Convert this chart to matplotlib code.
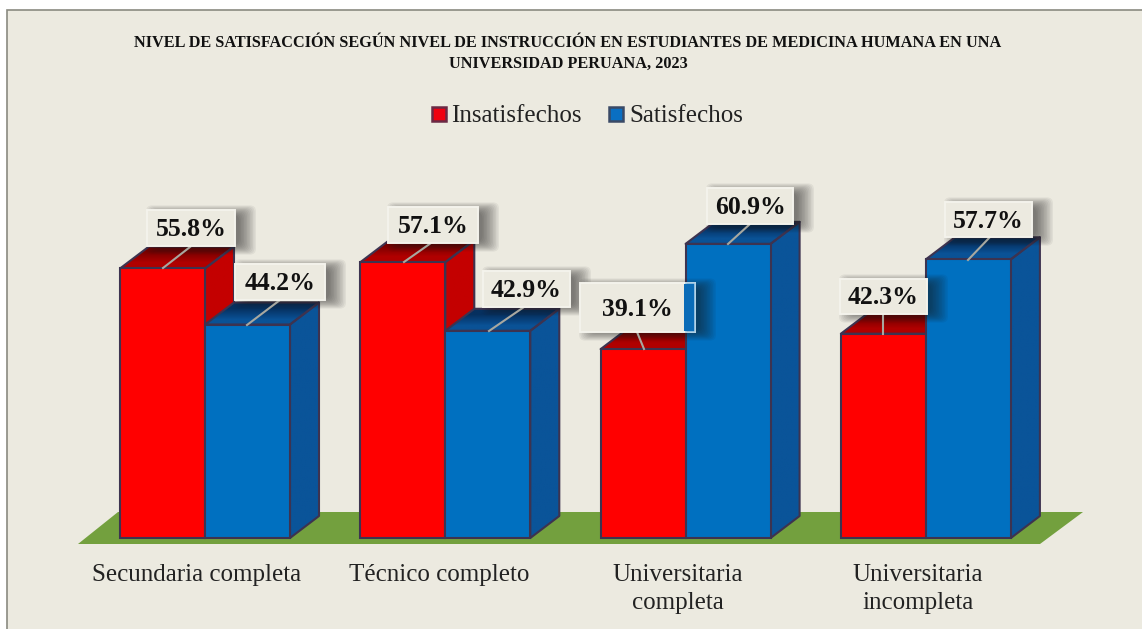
import numpy as np
import matplotlib
matplotlib.use("Agg")
import matplotlib.pyplot as plt
from matplotlib.patches import Polygon, Rectangle, FancyBboxPatch
from matplotlib.transforms import Affine2D

categories = ["Secundaria completa", "Técnico completo", "Universitaria\ncompleta", "Universitaria\nincompleta"]
insatisfechos = [55.8, 57.1, 39.1, 42.3]
satisfechos = [44.2, 42.9, 60.9, 57.7]

W, H = 1142, 629
BG = "#ECEAE0"
EDGE = "#3D3350"
SERIF = "Liberation Serif"

# scale: baseline at y=538, 4.83 px per percent, groups 240.3 px apart
px_x = 240.3
px_y = 4.83
bar_w = 85 / px_x
dx = 29 / px_x
dy = 22 / px_y

fig = plt.figure(figsize=(W / 100, H / 100), dpi=100, facecolor="white")
ax = fig.add_axes([0, 0, 1, 1])
ax.set_xlim(-205 / px_x, (W - 205) / px_x)
ax.set_ylim(-(H - 538) / px_y, 538 / px_y)
ax.axis("off")

# image pixels, y going down
pix = Affine2D().scale(1, -1).translate(0, H)

ax.add_patch(Rectangle((7, 10), W, H, transform=pix, fc=BG, ec="#8A8A80", lw=1.2, zorder=0))
ax.add_patch(Polygon([(78, 544), (1040, 544), (1083, 512), (118, 512)], transform=pix,
                     fc="#73A03E", ec="none", zorder=1))


def gradient_face(points, c0, c1, zorder):
    # vertical gradient clipped to a polygon
    colors = np.array([matplotlib.colors.to_rgb(c0), matplotlib.colors.to_rgb(c1)])
    img = colors.reshape(2, 1, 3)
    xs = [p[0] for p in points]
    ys = [p[1] for p in points]
    poly = Polygon(points, fc="none", ec=EDGE, lw=1.5, joinstyle="round", zorder=zorder + 0.1)
    ax.add_patch(poly)
    im = ax.imshow(img, extent=(min(xs), max(xs), min(ys), max(ys)), aspect="auto",
                   interpolation="bilinear", zorder=zorder)
    im.set_clip_path(poly)


def bar3d(x0, val, front, top_back, top_front, side, zorder):
    x1 = x0 + bar_w
    top = [(x0, val), (x1, val), (x1 + dx, val + dy), (x0 + dx, val + dy)]
    gradient_face(top, top_back, top_front, zorder)
    right = [(x1, 0), (x1 + dx, dy), (x1 + dx, val + dy), (x1, val)]
    gradient_face(right, side, side, zorder)
    ax.bar(x0, val, width=bar_w, align="edge", color=front, edgecolor=EDGE, lw=1.5, zorder=zorder + 0.2)


for i in range(len(categories)):
    z = 2 + i * 2
    bar3d(i - bar_w, insatisfechos[i], "#FF0000", "#760000", "#B00000", "#C40000", z)
    bar3d(i, satisfechos[i], "#0070C0", "#06305F", "#0A5296", "#0A5499", z + 1)

# label boxes in image pixels: x0, y0, x1, y1
boxes_red = [(147, 210, 235, 246), (388, 207, 478, 243), (580, 283, 695, 332), (840, 279, 927, 314)]
boxes_blue = [(235, 264, 325, 300), (483, 271, 570, 307), (707, 188, 793, 224), (945, 202, 1032, 237)]
leaders_red = [(163, 268, 190, 247), (404, 262, 431, 243), (644, 349, 637, 332), (883, 334, 883, 314)]
leaders_blue = [(247, 325, 280, 300), (489, 331, 524, 307), (728, 244, 750, 224), (968, 260, 990, 237)]

labels = [f"{v:.1f}%" for v in insatisfechos] + [f"{v:.1f}%" for v in satisfechos]
boxes = boxes_red + boxes_blue
leaders = leaders_red + leaders_blue

for (x0, y0, x1, y1) in boxes:
    # soft shadow, mostly to the right of the box
    for k in range(12):
        grow = 11 - k * 1.5
        ax.add_patch(FancyBboxPatch((x0 + 10 - grow, y0 + 2 - grow * 0.6), x1 - x0 + 2 * grow, y1 - y0 + 2 * grow * 0.6,
                                    boxstyle="round,pad=0,rounding_size=6", transform=pix,
                                    fc="#1A1A1A", ec="none", alpha=0.06, zorder=20))

for (lx0, ly0, lx1, ly1) in leaders:
    ax.plot([lx0, lx1], [ly0, ly1], transform=pix, color="#A8A8A0", lw=1.5, zorder=21)

for (x0, y0, x1, y1), label in zip(boxes, labels):
    ax.add_patch(Rectangle((x0, y0), x1 - x0, y1 - y0, transform=pix, fc=BG, ec="#F4F3EC", lw=1.4, zorder=22))
    ax.text((x0 + x1) / 2, (y0 + y1) / 2 + 1.5, label, transform=pix, ha="center", va="center",
            fontsize=18.5, fontweight="bold", family=SERIF, color="#111111", zorder=23)

# the 39.1% box runs over the blue bar without hiding it
ax.add_patch(Rectangle((686, 283), 9, 49, transform=pix, fc="#0A6CB8", ec="#A6CCE6", lw=1.2, zorder=22.5))
ax.add_patch(Rectangle((684, 284), 3, 47, transform=pix, fc="#0A6CB8", ec="none", zorder=22.6))

label_x = [197, 439, 678, 918]
for i, cat in enumerate(categories):
    first_y = 575
    for j, line in enumerate(cat.split("\n")):
        ax.text(label_x[i], first_y + j * 28, line, transform=pix, ha="center", va="center",
                fontsize=18, family=SERIF, color="#222222", zorder=5)

ax.text(568, 43, "NIVEL DE SATISFACCIÓN SEGÚN NIVEL DE INSTRUCCIÓN EN ESTUDIANTES DE MEDICINA HUMANA EN UNA",
        transform=pix, ha="center", va="center", fontsize=11.7, fontweight="bold", family=SERIF, color="#111111")
ax.text(568, 64, "UNIVERSIDAD PERUANA, 2023", transform=pix, ha="center", va="center",
        fontsize=11.7, fontweight="bold", family=SERIF, color="#111111")

# legend
ax.add_patch(Rectangle((432, 107), 14, 14, transform=pix, fc="#F00010", ec="#6A2A45", lw=1.8))
ax.text(451, 116, "Insatisfechos", transform=pix, ha="left", va="center", fontsize=18, family=SERIF, color="#222222")
ax.add_patch(Rectangle((609, 107), 14, 14, transform=pix, fc="#0A6FC2", ec="#3A4A66", lw=1.8))
ax.text(629, 116, "Satisfechos", transform=pix, ha="left", va="center", fontsize=18, family=SERIF, color="#222222")

fig.savefig("out.png", dpi=100, facecolor="white")
